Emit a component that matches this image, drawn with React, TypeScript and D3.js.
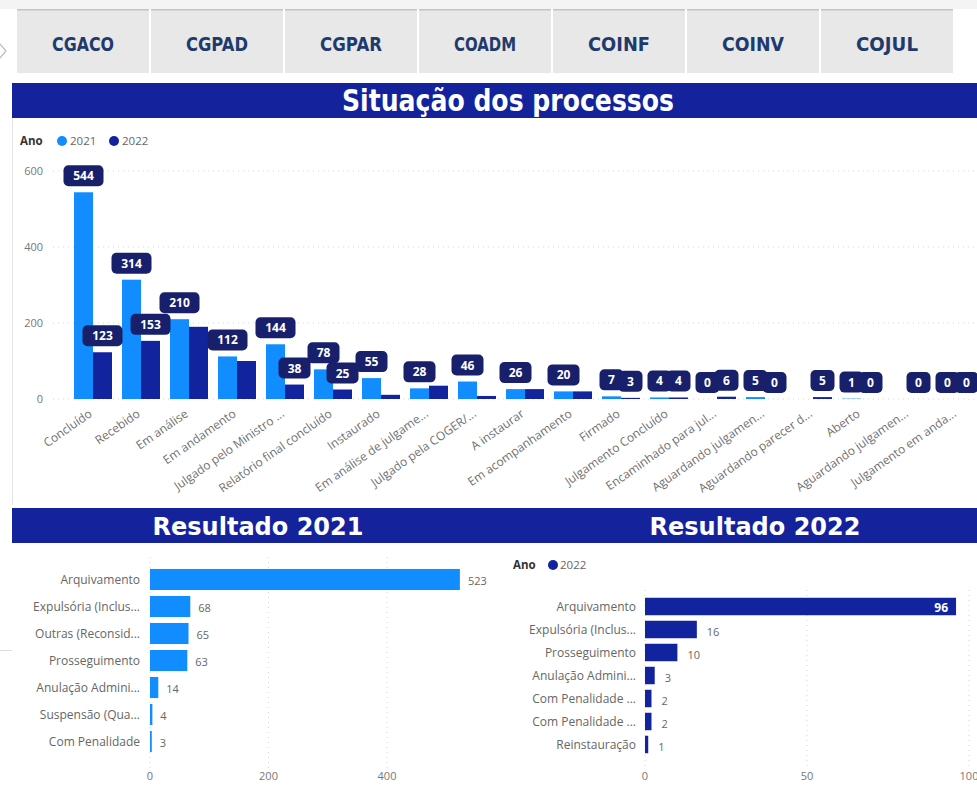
import * as d3 from 'd3';

// top chart: Situação dos processos
const categories = [
  'Concluído', 'Recebido', 'Em análise', 'Em andamento', 'Julgado pelo Ministro ...',
  'Relatório final concluído', 'Instaurado', 'Em análise de julgame...', 'Julgado pela COGER/...',
  'A instaurar', 'Em acompanhamento', 'Firmado', 'Julgamento Concluído', 'Encaminhado para jul...',
  'Aguardando julgamen...', 'Aguardando parecer d...', 'Aberto', 'Aguardando julgamen...',
  'Julgamento em anda...',
];
const values2021: (number | null)[] = [544, 314, 210, 112, 144, 78, 55, 28, 46, 26, 20, 7, 4, 0, 5, null, 1, null, 0];
const values2022: (number | null)[] = [123, 153, 190, 100, 38, 25, 11, 35, 8, 26, 20, 3, 4, 6, 0, 5, 0, 0, 0];
// power bi hides some overlapping labels
const show2022 = [1, 1, 0, 0, 1, 1, 0, 0, 0, 0, 0, 1, 1, 1, 1, 1, 1, 1, 1];
const yTicks = [0, 200, 400, 600];

// bottom charts
const res2021Cats = ['Arquivamento', 'Expulsória (Inclus...', 'Outras (Reconsid...', 'Prosseguimento', 'Anulação Admini...', 'Suspensão (Qua...', 'Com Penalidade'];
const res2021Vals = [523, 68, 65, 63, 14, 4, 3];
const res2021Ticks = [0, 200, 400];

const res2022Cats = ['Arquivamento', 'Expulsória (Inclus...', 'Prosseguimento', 'Anulação Admini...', 'Com Penalidade ...', 'Com Penalidade ...', 'Reinstauração'];
const res2022Vals = [96, 16, 10, 3, 2, 2, 1];
const res2022Ticks = [0, 50, 100];

const tabs = ['CGACO', 'CGPAD', 'CGPAR', 'COADM', 'COINF', 'COINV', 'COJUL'];

const C2021 = '#118DFF';
const C2022 = '#12239E';
const BANNER = '#14239c';
const LABELBOX = '#18206c';
const FONT = "'Open Sans', 'DejaVu Sans', sans-serif";
const TITLEFONT = "'DejaVu Sans', sans-serif";
const GREY = '#666';

export default function App() {
  // scales for the main chart
  const x0 = d3.scaleBand<number>()
    .domain(categories.map((_, i) => i))
    .range([69, 69 + categories.length * 48])
    .paddingInner(10 / 48)
    .paddingOuter(5 / 48);
  const x1 = d3.scaleBand<string>().domain(['2021', '2022']).range([0, x0.bandwidth()]);
  const y = d3.scaleLinear().domain([0, 600]).range([399, 171]);

  const yl = d3.scaleBand<number>().domain(res2021Vals.map((_, i) => i)).range([566, 755]).paddingInner(0.22).paddingOuter(0.11);
  const xl = d3.scaleLinear().domain([0, 540]).range([150, 150 + 540 * 0.5925]);

  const yr = d3.scaleBand<number>().domain(res2022Vals.map((_, i) => i)).range([595, 756]).paddingInner(0.24).paddingOuter(0.12);
  const xr = d3.scaleLinear().domain([0, 100]).range([645, 969]);

  const series = [
    { key: '2021', vals: values2021, color: C2021, show: values2021.map(() => 1) },
    { key: '2022', vals: values2022, color: C2022, show: show2022 },
  ];

  const labelBox = (v: number, cx: number, top: number, k: string) => {
    const w = String(v).length * 8 + 16;
    return (
      <g key={k}>
        <rect x={cx - w / 2} y={top - 27} width={w} height={21} rx={5} fill={LABELBOX} />
        <text x={cx} y={top - 12} textAnchor="middle" fill="#fff" fontSize={12} fontWeight={700} fontFamily={FONT}>{v}</text>
      </g>
    );
  };

  return (
    <svg width={977} height={785} style={{ position: 'absolute', left: 0, top: 0, display: 'block', background: '#fff' }}>
      {/* top strip */}
      <rect x={0} y={0} width={977} height={9} fill="#f4f4f4" />
      <path d="M0,44 L6,51 L0,58" fill="none" stroke="#bbb" strokeWidth={1.2} />
      {tabs.map((t, i) => (
        <g key={t}>
          <rect x={17 + i * 134} y={9} width={132} height={64} fill="#e8e8e8" />
          <rect x={17 + i * 134} y={9} width={132} height={1.5} fill="#c4c4c4" />
          <text x={17 + i * 134 + 66} y={51} textAnchor="middle" fill="#1f3a6c" fontSize={19} fontWeight={700}
            fontFamily={TITLEFONT} textLength={t.length * 12.4} lengthAdjust="spacingAndGlyphs">{t}</text>
        </g>
      ))}

      {/* title banner */}
      <rect x={12} y={83} width={965} height={35} fill={BANNER} />
      <text x={508} y={111} textAnchor="middle" fill="#fff" fontSize={30} fontWeight={700}
        fontFamily={TITLEFONT} textLength={332} lengthAdjust="spacingAndGlyphs">Situação dos processos</text>
      <line x1={12.5} x2={12.5} y1={118} y2={505} stroke="#e3e3e3" />

      {/* legend */}
      <text x={20} y={145} fontSize={11.5} fontWeight={700} fill="#333" fontFamily={FONT}>Ano</text>
      <circle cx={62} cy={141} r={5} fill={C2021} />
      <text x={70} y={145} fontSize={11.5} fill={GREY} fontFamily={FONT}>2021</text>
      <circle cx={114} cy={141} r={5} fill={C2022} />
      <text x={122} y={145} fontSize={11.5} fill={GREY} fontFamily={FONT}>2022</text>

      {/* y grid + ticks */}
      {yTicks.map(t => (
        <g key={t}>
          <line x1={53} x2={977} y1={y(t)} y2={y(t)} stroke="#d6d6d6" strokeDasharray="1,4" />
          <text x={43} y={y(t) + 4} textAnchor="end" fontSize={11} fill="#777" fontFamily={FONT}>{t}</text>
        </g>
      ))}

      {/* bars */}
      {categories.map((_, i) => (
        <g key={'b' + i}>
          {series.map(s => {
            const v = s.vals[i];
            if (v == null || v === 0) return null;
            return <rect key={s.key} x={(x0(i) ?? 0) + (x1(s.key) ?? 0)} y={y(v)} width={x1.bandwidth()} height={y(0) - y(v)} fill={s.color} />;
          })}
        </g>
      ))}

      {/* data labels */}
      {categories.map((_, i) => (
        <g key={'l' + i}>
          {series.map(s => {
            const v = s.vals[i];
            if (v == null || !s.show[i]) return null;
            const cx = (x0(i) ?? 0) + (x1(s.key) ?? 0) + x1.bandwidth() / 2;
            return labelBox(v, cx, y(v), s.key);
          })}
        </g>
      ))}

      {/* x labels */}
      {categories.map((c, i) => (
        <text key={'x' + i} transform={`translate(${(x0(i) ?? 0) + x0.bandwidth() / 2 - 6},${407}) rotate(-35)`}
          textAnchor="end" dominantBaseline="hanging" fontSize={12} fill="#707070" fontFamily={FONT}>{c}</text>
      ))}

      {/* bottom banner */}
      <rect x={12} y={508} width={965} height={35} fill={BANNER} />
      <text x={258} y={535} textAnchor="middle" fill="#fff" fontSize={24} fontWeight={700} fontFamily={TITLEFONT}>Resultado 2021</text>
      <text x={755} y={535} textAnchor="middle" fill="#fff" fontSize={24} fontWeight={700} fontFamily={TITLEFONT}>Resultado 2022</text>
      <line x1={0} x2={12} y1={650.5} y2={650.5} stroke="#ddd" />

      {/* Resultado 2021 */}
      {res2021Ticks.map(t => (
        <g key={'lt' + t}>
          <line x1={xl(t)} x2={xl(t)} y1={557} y2={768} stroke="#d6d6d6" strokeDasharray="1,4" />
          <text x={xl(t)} y={780} textAnchor="middle" fontSize={11} fill="#777" fontFamily={FONT}>{t}</text>
        </g>
      ))}
      {res2021Vals.map((v, i) => {
        const yy = yl(i) ?? 0;
        return (
          <g key={'lb' + i}>
            <rect x={xl(0)} y={yy} width={xl(v) - xl(0)} height={yl.bandwidth()} fill={C2021} />
            <text x={140} y={yy + yl.bandwidth() / 2 + 4} textAnchor="end" fontSize={12} fill={GREY} fontFamily={FONT}>{res2021Cats[i]}</text>
            <text x={xl(v) + 8} y={yy + yl.bandwidth() / 2 + 5} fontSize={11} fill={GREY} fontFamily={FONT}>{v}</text>
          </g>
        );
      })}

      {/* Resultado 2022 */}
      <text x={513} y={569} fontSize={11.5} fontWeight={700} fill="#333" fontFamily={FONT}>Ano</text>
      <circle cx={553} cy={565} r={5} fill={C2022} />
      <text x={560} y={569} fontSize={11.5} fill={GREY} fontFamily={FONT}>2022</text>
      {res2022Ticks.map(t => (
        <g key={'rt' + t}>
          <line x1={xr(t)} x2={xr(t)} y1={590} y2={768} stroke="#d6d6d6" strokeDasharray="1,4" />
          <text x={xr(t)} y={780} textAnchor="middle" fontSize={11} fill="#777" fontFamily={FONT}>{t}</text>
        </g>
      ))}
      {res2022Vals.map((v, i) => {
        const yy = yr(i) ?? 0;
        const inside = xr(v) > 900;
        return (
          <g key={'rb' + i}>
            <rect x={xr(0)} y={yy} width={xr(v) - xr(0)} height={yr.bandwidth()} fill={C2022} />
            <text x={636} y={yy + yr.bandwidth() / 2 + 4} textAnchor="end" fontSize={12} fill={GREY} fontFamily={FONT}>{res2022Cats[i]}</text>
            {inside
              ? <text x={xr(v) - 8} y={yy + yr.bandwidth() / 2 + 5} textAnchor="end" fontSize={12} fontWeight={700} fill="#fff" fontFamily={FONT}>{v}</text>
              : <text x={xr(v) + 10} y={yy + yr.bandwidth() / 2 + 6} fontSize={11} fill={GREY} fontFamily={FONT}>{v}</text>}
          </g>
        );
      })}
    </svg>
  );
}
